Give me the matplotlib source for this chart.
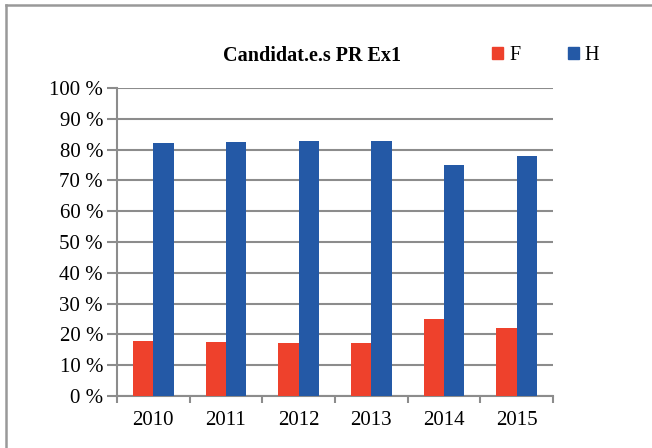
import numpy as np
import matplotlib.pyplot as plt
from matplotlib.lines import Line2D
from matplotlib.patches import Patch

years = ['2010', '2011', '2012', '2013', '2014', '2015']
femmes = [17.7, 17.4, 17.2, 17.2, 25.1, 22.2]
hommes = [82.3, 82.6, 82.8, 82.8, 74.9, 77.8]
yticks = [0, 10, 20, 30, 40, 50, 60, 70, 80, 90, 100]

red = '#EE412C'
blue = '#2459A6'
grid = '#8C8C8C'
serif = 'Liberation Serif'

fig = plt.figure(figsize=(6.52, 4.48), dpi=100)
ax = fig.add_axes([117/652, 1-396/448, 436/652, 308/448])

x = np.arange(len(years))
w = 0.28
ax.bar(x - w/2, femmes, w, color=red, zorder=3, label='F')
ax.bar(x + w/2, hommes, w, color=blue, zorder=3, label='H')

ax.set_xlim(-0.5, len(years) - 0.5)
ax.set_ylim(0, 100)
ax.set_yticks(yticks)
ax.set_yticklabels(['%d %%' % v for v in yticks], fontfamily=serif, fontsize=15)
ax.yaxis.grid(True, color=grid, linewidth=1.5, zorder=0)

# year labels in the middle, ticks on the category edges
ax.set_xticks(x)
ax.set_xticklabels(years, fontfamily=serif, fontsize=15)
ax.tick_params(axis='x', length=0, pad=11)
ax.set_xticks(np.arange(len(years) + 1) - 0.5, minor=True)
ax.tick_params(axis='x', which='minor', length=5, width=1.5, color=grid, direction='out')
ax.tick_params(axis='y', length=7, width=1.5, color=grid, pad=3)

for s in ['top', 'right']:
    ax.spines[s].set_visible(False)
for s in ['left', 'bottom']:
    ax.spines[s].set_color(grid)
    ax.spines[s].set_linewidth(1.5)

fig.text(312/652, 1-56/448, 'Candidat.e.s PR Ex1', ha='center', va='center',
         fontfamily=serif, fontweight='bold', fontsize=14.5)

handles = [Patch(color=red, label='F'), Patch(color=blue, label='H')]
fig.legend(handles=handles, loc='center left', bbox_to_anchor=(492/652, 1-56/448),
           ncol=2, frameon=False, handlelength=0.55, handleheight=0.55,
           handletextpad=0.3, columnspacing=2.35, prop={'family': serif, 'size': 14.5},
           borderaxespad=0, borderpad=0)

# frame of the chart area: only top and left are visible
fig.add_artist(Line2D([5.5/652, 5.5/652], [0, 1-5/448], color='#999999', linewidth=1.8, transform=fig.transFigure))
fig.add_artist(Line2D([5.5/652, 1], [1-5.5/448, 1-5.5/448], color='#999999', linewidth=1.8, transform=fig.transFigure))

fig.savefig('out.png', dpi=100)
